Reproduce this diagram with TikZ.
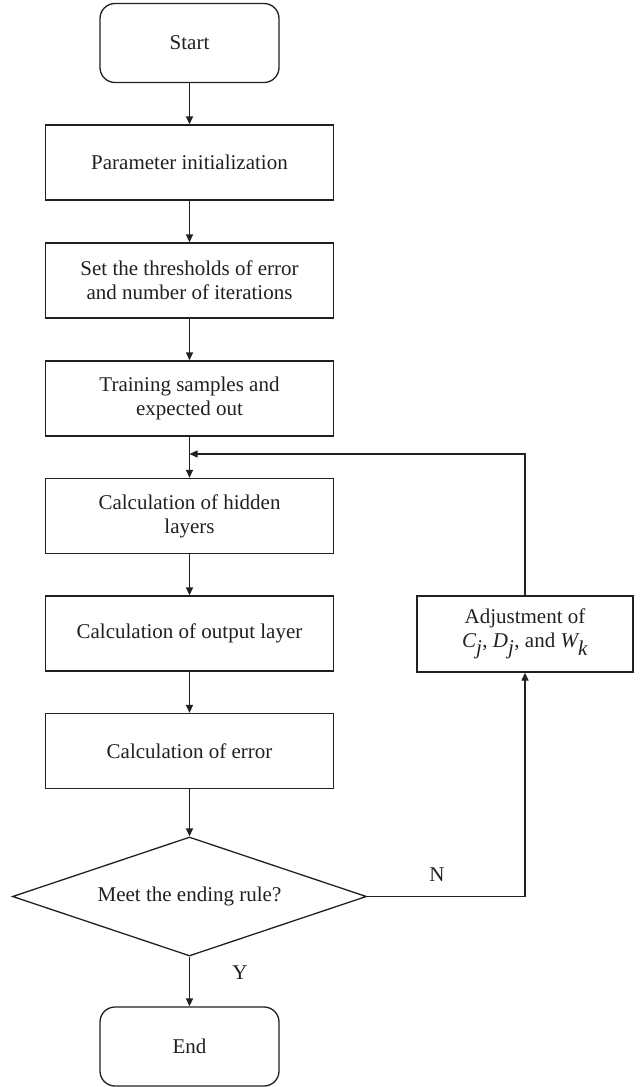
\documentclass[tikz,border=0pt]{standalone}
\usepackage{fontspec}
\setmainfont{Liberation Serif}
\usetikzlibrary{arrows.meta,shapes.geometric}
\definecolor{ink}{HTML}{231F20}
\begin{document}
\begin{tikzpicture}[x=1pt,y=-1pt,
  every node/.style={font=\fontsize{21}{24}\selectfont, text=ink, align=center},
  procbox/.style={draw=ink, line width=1.3pt, rectangle, minimum width=288pt, minimum height=75pt, inner sep=0pt},
  termbox/.style={draw=ink, line width=1.3pt, rectangle, rounded corners=15pt, minimum width=179pt, minimum height=79pt, inner sep=0pt},
  decbox/.style={draw=ink, line width=1.3pt, diamond, aspect=3, minimum width=354pt, minimum height=119pt, inner sep=0pt},
  flow/.style={draw=ink, line width=1.3pt, -{Triangle[length=8pt,width=7pt]}},
  plain/.style={draw=ink, line width=1.3pt}
]
\useasboundingbox (0,0) rectangle (641,1087);
\node[termbox] (start) at (189.5,43) {Start};
\node[procbox] (param) at (189.5,162.5) {Parameter initialization};
\node[procbox] (thr) at (189.5,280.5) {Set the thresholds of error\\and number of iterations};
\node[procbox] (train) at (189.5,398.5) {Training samples and\\expected out};
\node[procbox] (hidden) at (189.5,516) {Calculation of hidden\\layers};
\node[procbox] (output) at (189.5,633.5) {Calculation of output layer};
\node[procbox] (err) at (189.5,751) {Calculation of error};
\node[decbox] (dec) at (189.5,896.5) {Meet the ending rule?};
\node[termbox] (end) at (189.5,1046.5) {End};
\node[draw=ink, line width=1.3pt, rectangle, minimum width=216pt, minimum height=76pt, inner sep=0pt] (adj) at (525,634) {Adjustment of\\$\textit{C}_{\textit{j}}$, $\textit{D}_{\textit{j}}$, and $\textit{W}_{\textit{k}}$};
\coordinate (ncorner) at (525,896.5);
\coordinate (fbtop) at (525,454);
\coordinate (fbend) at (189.5,454);
\draw[flow] (start) -- (param);
\draw[flow] (param) -- (thr);
\draw[flow] (thr) -- (train);
\draw[flow] (train) -- (hidden);
\draw[flow] (hidden) -- (output);
\draw[flow] (output) -- (err);
\draw[flow] (err.south) -- (dec.north);
\draw[flow] (dec.south) -- (end.north);
\draw[flow] (dec.east) -- (ncorner) -- (adj.south);
\draw[flow] (adj.north) -- (fbtop) -- (fbend);
\node (ylab) at (240,973) {Y};
\node (nlab) at (437,875) {N};
\end{tikzpicture}
\end{document}
